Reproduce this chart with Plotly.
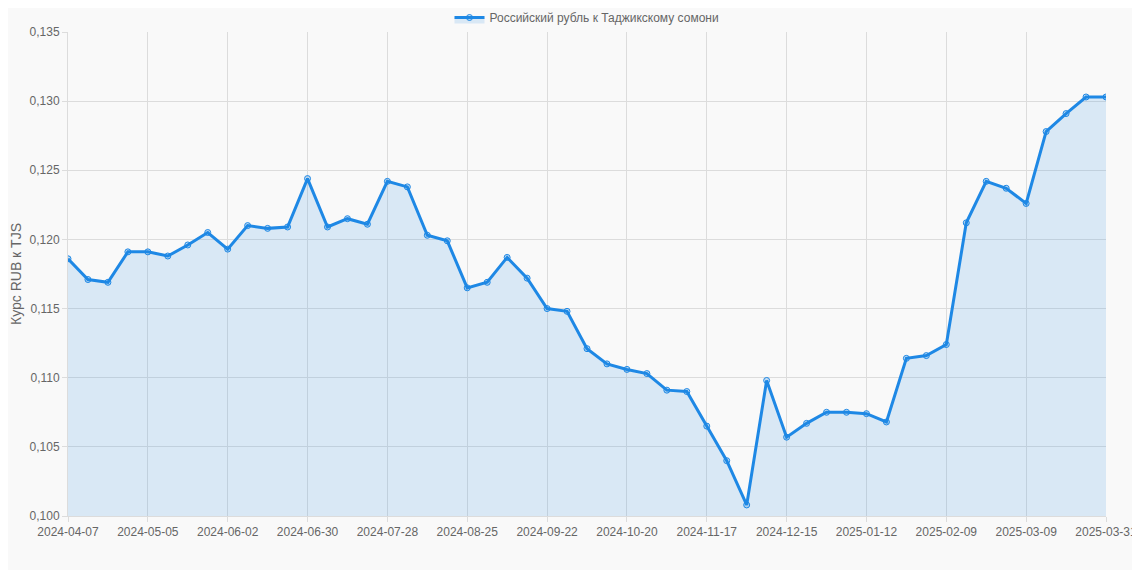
import pandas as pd
import plotly.graph_objects as go

dates = [d.strftime('%Y-%m-%d') for d in pd.date_range('2024-04-07', periods=52, freq='7D')] + ['2025-03-31']
rates = [0.1186, 0.1171, 0.1169, 0.1191, 0.1191, 0.1188, 0.1196, 0.1205, 0.1193, 0.1210,
         0.1208, 0.1209, 0.1244, 0.1209, 0.1215, 0.1211, 0.1242, 0.1238, 0.1203, 0.1199,
         0.1165, 0.1169, 0.1187, 0.1172, 0.1150, 0.1148, 0.1121, 0.1110, 0.1106, 0.1103,
         0.1091, 0.1090, 0.1065, 0.1040, 0.1008, 0.1098, 0.1057, 0.1067, 0.1075, 0.1075,
         0.1074, 0.1068, 0.1114, 0.1116, 0.1124, 0.1212, 0.1242, 0.1237, 0.1226, 0.1278,
         0.1291, 0.1303, 0.1303]
tick_labels = dates[::4] + [dates[-1]]

fig = go.Figure()
fig.add_trace(go.Scatter(
    x=dates, y=rates, mode='lines+markers', name='Российский рубль к Таджикскому сомони',
    line=dict(color='#1E88E5', width=3),
    marker=dict(size=6, color='rgba(30,136,229,0.25)', line=dict(color='#1E88E5', width=1)),
    fill='tozeroy', fillcolor='rgba(30,136,229,0.14)'))

# page adds ~8px offset, so margins compensate
fig.update_layout(
    width=1140, height=570, paper_bgcolor='#f9f9f9', plot_bgcolor='#f9f9f9',
    margin=dict(l=60, r=42, t=24, b=62, autoexpand=False), separators=', ',
    font=dict(family='Liberation Sans, Arial', size=12, color='#666'),
    showlegend=True,
    legend=dict(orientation='h', x=0.5, xanchor='center', y=1.0, yanchor='bottom', font=dict(size=12)),
)
fig.update_xaxes(type='category', tickvals=tick_labels, ticktext=tick_labels, showgrid=True,
                 gridcolor='#dcdcdc', showline=True, linecolor='#dcdcdc', tickangle=0,
                 range=[0, len(dates) - 1], ticks='outside', ticklen=5, tickcolor='#dcdcdc',
                 automargin=False)
fig.update_yaxes(range=[0.100, 0.135], dtick=0.005, tickformat='.3f', gridcolor='#dcdcdc',
                 showline=True, linecolor='#dcdcdc', title=dict(text='Курс RUB к TJS', standoff=6),
                 zeroline=False, ticks='outside', ticklen=5, tickcolor='#dcdcdc', automargin=False)

fig.write_html('out.html')
